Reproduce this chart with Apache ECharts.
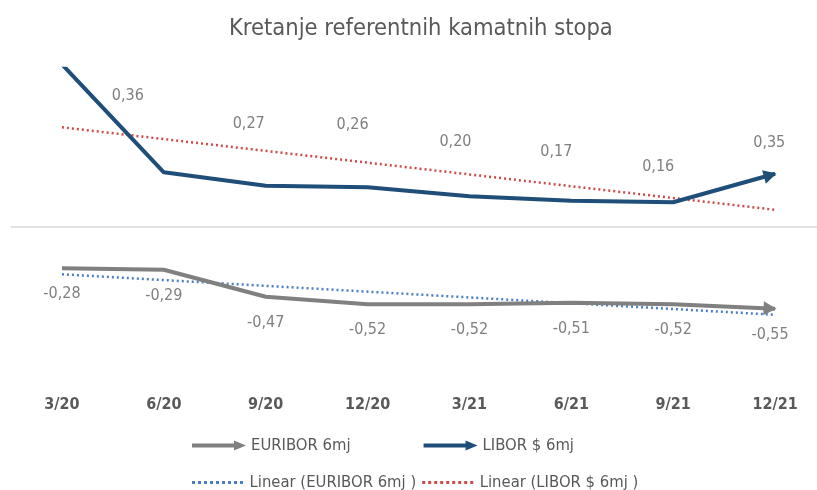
<!DOCTYPE html>
<html>
<head>
<meta charset="utf-8">
<script src="https://cdn.jsdelivr.net/npm/echarts@6/dist/echarts.min.js"></script>
<style>
html, body { margin: 0; padding: 0; background: #fff; overflow: hidden; }
/* the plot area runs a little past the right edge in the original, so the box is wider than the window */
#chart { width: 826px; height: 490px; }
</style>
</head>
<body>
<div id="chart"></div>
<script>
var quarters = ['3/20', '6/20', '9/20', '12/20', '3/21', '6/21', '9/21', '12/21'];
var euribor = [-0.28, -0.29, -0.47, -0.52, -0.52, -0.51, -0.52, -0.55];
var libor = [1.08, 0.36, 0.27, 0.26, 0.20, 0.17, 0.16, 0.35];
// trend lines: only start and end
var euriborTrend = [-0.32, null, null, null, null, null, null, -0.59];
var liborTrend = [0.66, null, null, null, null, null, null, 0.11];

// LIBOR labels were dragged by hand in the original
var liborLabelShift = [null, [-36, -68], [-17, -54], [-15, -54], [-14, -46], [-15, -41], [-15, -27], [-1, -23]];

var FONT = '"Liberation Sans Narrow", "DejaVu Sans Condensed", "Roboto", sans-serif';
var arrowIcon = 'path://M0,3 L42,3 L42,0 L54,5 L42,10 L42,7 L0,7 Z';
var headPath = 'path://M0,0 L12,6 L0,12 Z';

// dotted legend icon: row of small squares
var dotIcon = 'path://';
for (var d = 0; d < 9; d++) {
	dotIcon += 'M' + (d * 6) + ',0 h3 v3 h-3 Z ';
}

function fmt(v) {
	return v.toFixed(2).replace('.', ',');
}

var myChart = echarts.init(document.getElementById('chart'));

var euriborData = euribor.map(function (v) {
	return { value: v };
});
var liborData = libor.map(function (v, i) {
	var item = { value: v };
	if (liborLabelShift[i]) {
		item.label = { offset: liborLabelShift[i] };
	} else {
		item.label = { show: false };
	}
	return item;
});

var legendText = { fontFamily: FONT, fontSize: 16.5, color: '#595959' };

var option = {
	animation: false,
	backgroundColor: '#fff',
	title: {
		text: 'Kretanje referentnih kamatnih stopa',
		left: 224,
		top: 12,
		textStyle: {
			fontFamily: FONT,
			fontSize: 23.5,
			fontWeight: 'normal',
			color: '#595959'
		}
	},
	legend: [{
		left: 187,
		top: 432,
		itemWidth: 54,
		itemHeight: 10,
		itemGap: 73,
		data: [
			{ name: 'EURIBOR 6mj', icon: arrowIcon },
			{ name: 'LIBOR $ 6mj', icon: arrowIcon }
		],
		textStyle: legendText
	}, {
		left: 187,
		top: 469,
		itemWidth: 54,
		itemHeight: 3,
		itemGap: 6,
		data: [
			{ name: 'Linear (EURIBOR 6mj )', icon: dotIcon },
			{ name: 'Linear (LIBOR $ 6mj )', icon: dotIcon }
		],
		textStyle: legendText
	}],
	grid: {
		left: 11,
		right: 0,
		top: 68.8,
		bottom: 106.2
	},
	xAxis: {
		type: 'category',
		data: quarters,
		boundaryGap: true,
		axisLine: { show: false },
		axisTick: { show: false },
		axisLabel: {
			margin: 13,
			fontFamily: FONT,
			fontSize: 16,
			fontWeight: 'bold',
			color: '#595959'
		},
		splitLine: { show: false }
	},
	yAxis: {
		type: 'value',
		min: -1.05,
		max: 1.05,
		show: false,
		splitLine: { show: false }
	},
	series: [{
		name: 'EURIBOR 6mj',
		type: 'line',
		data: euriborData,
		z: 3,
		symbol: 'circle',
		symbolSize: 0,
		color: '#808080',
		lineStyle: { width: 4, color: '#808080' },
		label: {
			show: true,
			position: 'bottom',
			distance: 18,
			fontFamily: FONT,
			fontSize: 16,
			color: '#7f7f7f',
			formatter: function (p) { return fmt(p.value); }
		},
		markLine: {
			silent: true,
			symbol: 'none',
			label: { show: false },
			lineStyle: { color: '#d9d9d9', width: 1.5, type: 'solid' },
			data: [{ yAxis: 0 }]
		}
	}, {
		name: 'LIBOR $ 6mj',
		type: 'line',
		data: liborData,
		z: 3,
		symbol: 'circle',
		symbolSize: 0,
		color: '#1f4e79',
		lineStyle: { width: 4, color: '#1f4e79' },
		label: {
			show: true,
			position: 'top',
			distance: 0,
			fontFamily: FONT,
			fontSize: 16,
			color: '#7f7f7f',
			formatter: function (p) { return fmt(p.value); }
		}
	}, {
		name: 'Linear (EURIBOR 6mj )',
		type: 'line',
		data: euriborTrend,
		connectNulls: true,
		symbol: 'none',
		z: 2,
		color: '#4a7fc8',
		lineStyle: { width: 2.5, color: '#4a7fc8', type: [2, 3] }
	}, {
		name: 'Linear (LIBOR $ 6mj )',
		type: 'line',
		data: liborTrend,
		connectNulls: true,
		symbol: 'none',
		z: 2,
		color: '#cc4a48',
		lineStyle: { width: 2.5, color: '#cc4a48', type: [2, 3] }
	}]
};

myChart.setOption(option);

// arrow heads at the end of both main lines, turned along the last segment,
// pulled back so the tip sits on the last point
function arrowFor(seriesIndex, values) {
	var n = values.length;
	var a = myChart.convertToPixel({ seriesIndex: seriesIndex }, [n - 2, values[n - 2]]);
	var b = myChart.convertToPixel({ seriesIndex: seriesIndex }, [n - 1, values[n - 1]]);
	var rad = Math.atan2(a[1] - b[1], b[0] - a[0]);
	var back = 5;
	return {
		symbol: headPath,
		symbolSize: [13, 14],
		symbolRotate: rad * 180 / Math.PI,
		symbolOffset: [-back * Math.cos(rad), back * Math.sin(rad)]
	};
}

var ea = arrowFor(0, euribor);
var la = arrowFor(1, libor);
var ne = euriborData.length - 1;
var nl = liborData.length - 1;
// the bigger symbol pushes the label away, so pull it back in
euriborData[ne] = Object.assign({}, euriborData[ne], ea, { label: { distance: 11 } });
liborData[nl] = Object.assign({}, liborData[nl], la, {
	label: { offset: liborLabelShift[nl], distance: -7 }
});

myChart.setOption({
	series: [{ data: euriborData }, { data: liborData }]
});
</script>
</body>
</html>
